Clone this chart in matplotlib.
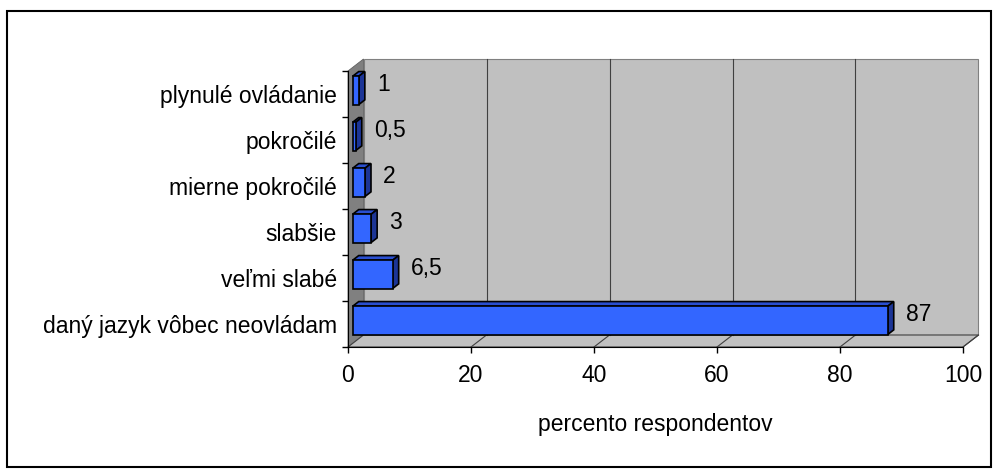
import matplotlib
matplotlib.use('Agg')
import matplotlib.pyplot as plt
from matplotlib.patches import Polygon, Rectangle
import numpy as np

plt.rcParams['font.family'] = ['Liberation Sans', 'DejaVu Sans']

categories = ['daný jazyk vôbec neovládam', 'veľmi slabé', 'slabšie',
              'mierne pokročilé', 'pokročilé', 'plynulé ovládanie']
values = [87, 6.5, 3, 2, 0.5, 1]
value_labels = ['87', '6,5', '3', '2', '0,5', '1']
xticks = [0, 20, 40, 60, 80, 100]

FS = 16.5

fig = plt.figure(figsize=(9.99, 4.75), dpi=100)
ax = fig.add_axes([348/999, 128/475, 615/999, 276/475])
ax.set_xlim(0, 100)
ax.set_ylim(-0.5, len(categories) - 0.5)

# depth of the 3D box in data units
DX = 15.5 / 6.15
DY = 12 / 46.0
ytop = len(categories) - 0.5

# walls and floor
ax.add_patch(Polygon([(DX, -0.5 + DY), (100 + DX, -0.5 + DY), (100 + DX, ytop + DY), (DX, ytop + DY)],
                     closed=True, facecolor='#c0c0c0', edgecolor='#808080', lw=0.8, clip_on=False, zorder=1))
ax.add_patch(Polygon([(0, -0.5), (DX, -0.5 + DY), (DX, ytop + DY), (0, ytop)],
                     closed=True, facecolor='#808080', edgecolor='#606060', lw=0.6, clip_on=False, zorder=1))
ax.add_patch(Polygon([(0, -0.5), (100, -0.5), (100 + DX, -0.5 + DY), (DX, -0.5 + DY)],
                     closed=True, facecolor='#c0c0c0', edgecolor='#404040', lw=0.8, clip_on=False, zorder=1))

# gridlines on back wall + floor
for t in xticks[1:-1]:
    ax.plot([t + DX, t + DX], [-0.5 + DY, ytop + DY], color='#404040', lw=0.8, clip_on=False, zorder=2)
for t in xticks[1:]:
    ax.plot([t, t + DX], [-0.5, -0.5 + DY], color='#404040', lw=0.8, clip_on=False, zorder=2)

# 3D bars
f0, f1 = 0.3, 0.69
h = 0.615
for i, (v, lab) in enumerate(zip(values, value_labels)):
    x0, x1 = f0 * DX, f1 * DX
    y0 = i - h / 2 + f0 * DY
    y1 = i + h / 2 + f0 * DY
    ddy = (f1 - f0) * DY
    front = [(x0, y0), (x0 + v, y0), (x0 + v, y1), (x0, y1)]
    top = [(x0, y1), (x0 + v, y1), (x1 + v, y1 + ddy), (x1, y1 + ddy)]
    side = [(x0 + v, y0), (x1 + v, y0 + ddy), (x1 + v, y1 + ddy), (x0 + v, y1)]
    ax.add_patch(Polygon(top, closed=True, facecolor='#2a4fd0', edgecolor='black', lw=1.2, zorder=3, clip_on=False))
    ax.add_patch(Polygon(side, closed=True, facecolor='#1c3596', edgecolor='black', lw=1.2, zorder=3, clip_on=False))
    ax.add_patch(Polygon(front, closed=True, facecolor='#3366ff', edgecolor='black', lw=1.2, zorder=4, clip_on=False))
    ax.annotate(lab, xy=(x0 + v, i + f0 * DY), xytext=(13, 4), textcoords='offset points',
                ha='left', va='center', fontsize=FS)

# axes styling
for s in ['top', 'right']:
    ax.spines[s].set_visible(False)
ax.spines['left'].set_zorder(5)
ax.spines['bottom'].set_zorder(5)
ax.set_xticks(xticks)
ax.set_xticklabels([str(t) for t in xticks], fontsize=FS)
ax.tick_params(axis='x', direction='out', length=4, width=1, pad=8)
ax.set_yticks(range(len(categories)))
ax.set_yticklabels(categories, fontsize=FS)
ax.set_yticks(np.arange(-0.5, len(categories), 1), minor=True)
ax.tick_params(axis='y', which='major', length=0, pad=8)
ax.tick_params(axis='y', which='minor', direction='out', length=4.5, width=1)
ax.set_xlabel('percento respondentov', fontsize=FS, labelpad=19)
ax.patch.set_visible(False)

# outer chart border
fig.patches.append(Rectangle((7/999, 8/475), 984/999, 456/475, transform=fig.transFigure,
                             fill=False, edgecolor='black', lw=1.5))

fig.savefig('out.png', dpi=100)
